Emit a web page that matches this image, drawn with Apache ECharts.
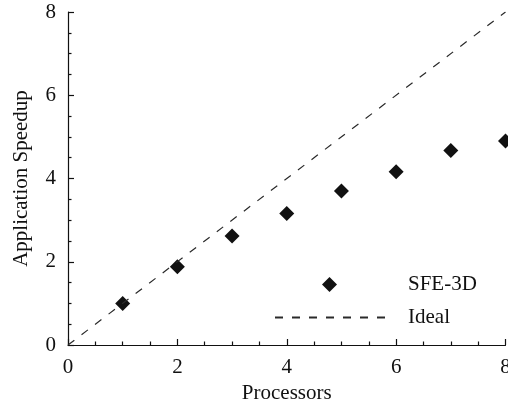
<!DOCTYPE html>
<html>
<head>
<meta charset="utf-8">
<script src="https://cdn.jsdelivr.net/npm/echarts@6/dist/echarts.min.js"></script>
<style>
  html, body { margin: 0; padding: 0; background: #fff; }
  #chart { width: 508px; height: 403px; }
</style>
</head>
<body>
<div id="chart"></div>
<script>
// processors vs measured speedup
const processors = [1, 2, 3, 4, 5, 6, 7, 8]
const speedup = [1.0, 1.88, 2.62, 3.16, 3.70, 4.16, 4.67, 4.90]
const idealLine = [[0, 0], [8, 8]]

const font = 'Liberation Serif'
const ink = '#111'

const chart = echarts.init(document.getElementById('chart'))

const axisCommon = {
  min: 0,
  max: 8,
  interval: 2,
  nameLocation: 'middle',
  nameTextStyle: { fontFamily: font, fontSize: 21, color: ink },
  axisLine: { show: true, lineStyle: { color: ink, width: 1.2 } },
  axisTick: { show: true, inside: true, length: 6, lineStyle: { color: ink, width: 1.2 } },
  minorTick: { show: true, splitNumber: 4, length: 3.5, lineStyle: { color: ink, width: 1.2 } },
  axisLabel: { fontFamily: font, fontSize: 21, color: ink },
  splitLine: { show: false }
}

const legendText = { fontFamily: font, fontSize: 21, color: ink }

chart.setOption({
  backgroundColor: '#fff',
  animation: false,
  grid: { left: 68, right: 2.5, top: 12, bottom: 58, outerBoundsMode: 'none', containLabel: false },
  xAxis: Object.assign({}, axisCommon, {
    type: 'value',
    name: 'Processors',
    nameGap: 33,
    axisLabel: Object.assign({}, axisCommon.axisLabel, { margin: 12 })
  }),
  yAxis: Object.assign({}, axisCommon, {
    type: 'value',
    name: 'Application Speedup',
    nameGap: 36,
    axisLabel: Object.assign({}, axisCommon.axisLabel, { margin: 12 })
  }),
  legend: [
    {
      left: 317,
      top: 269,
      itemWidth: 15,
      itemHeight: 15,
      textStyle: Object.assign({}, legendText, { padding: [0, 0, 0, 66] }),
      data: ['SFE-3D']
    },
    {
      left: 269,
      top: 302,
      itemWidth: 116,
      itemHeight: 14,
      textStyle: Object.assign({}, legendText, { padding: [0, 0, 0, 12] }),
      data: [{ name: 'Ideal', itemStyle: { opacity: 0 } }]
    }
  ],
  series: [
    {
      name: 'Ideal',
      type: 'line',
      data: idealLine,
      symbol: 'none',
      lineStyle: { color: '#2a2a2a', width: 1.2, type: [8, 9] },
      itemStyle: { color: '#2a2a2a' }
    },
    {
      name: 'SFE-3D',
      type: 'scatter',
      data: processors.map((p, i) => [p, speedup[i]]),
      symbol: 'diamond',
      symbolSize: 15,
      clip: false,
      itemStyle: { color: ink, opacity: 1 }
    }
  ]
})
</script>
</body>
</html>
